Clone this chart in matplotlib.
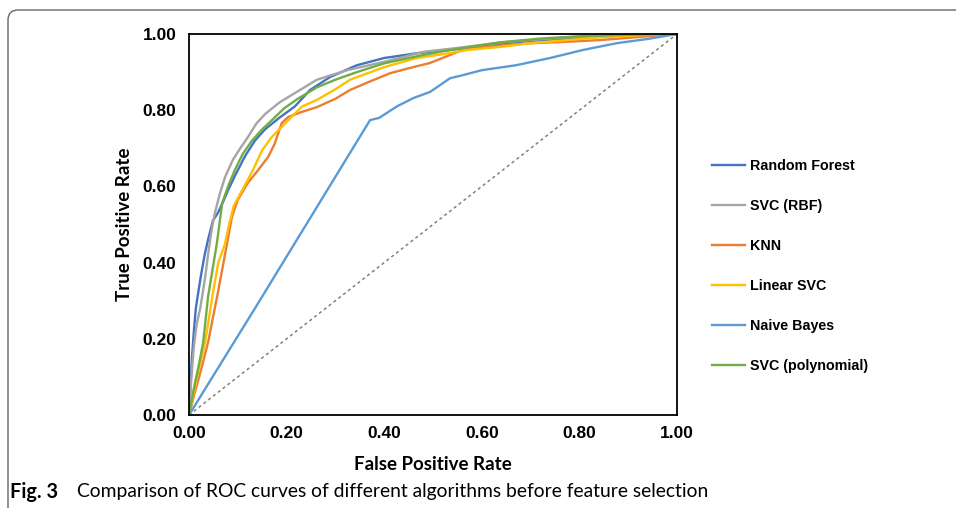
import matplotlib
matplotlib.use("Agg")
import matplotlib.pyplot as plt
from matplotlib.patches import FancyBboxPatch
from matplotlib.transforms import IdentityTransform

# ROC curves
names = ["Random Forest", "SVC (RBF)", "KNN", "Linear SVC", "Naive Bayes", "SVC (polynomial)"]
colors = ["#4472C4", "#A5A5A5", "#ED7D31", "#FFC000", "#5B9BD5", "#70AD47"]

rf_fpr = [0, 0.002, 0.006, 0.010, 0.014, 0.020, 0.025, 0.032, 0.039, 0.049, 0.059, 0.070, 0.080,
          0.095, 0.115, 0.135, 0.156, 0.185, 0.217, 0.248, 0.289, 0.344, 0.40, 0.47, 0.535, 0.62,
          0.70, 0.80, 0.90, 1.0]
rf_tpr = [0, 0.05, 0.15, 0.22, 0.28, 0.33, 0.37, 0.42, 0.46, 0.51, 0.53, 0.56, 0.59,
          0.63, 0.68, 0.72, 0.75, 0.78, 0.81, 0.853, 0.887, 0.918, 0.937, 0.95, 0.958, 0.972,
          0.982, 0.99, 0.997, 1.0]

rbf_fpr = [0, 0.005, 0.010, 0.016, 0.023, 0.033, 0.040, 0.047, 0.053, 0.063, 0.074, 0.090, 0.105,
           0.121, 0.138, 0.156, 0.185, 0.217, 0.262, 0.324, 0.40, 0.48, 0.56, 0.64, 0.72, 0.80,
           0.90, 1.0]
rbf_tpr = [0, 0.10, 0.18, 0.24, 0.28, 0.36, 0.43, 0.49, 0.53, 0.58, 0.625, 0.67, 0.70,
           0.73, 0.765, 0.79, 0.82, 0.845, 0.88, 0.905, 0.927, 0.953, 0.965, 0.978, 0.986, 0.993,
           0.998, 1.0]

knn_fpr = [0, 0.010, 0.025, 0.039, 0.059, 0.078, 0.088, 0.100, 0.121, 0.140, 0.162, 0.175, 0.190,
           0.203, 0.230, 0.262, 0.300, 0.330, 0.370, 0.412, 0.450, 0.494, 0.535, 0.570, 0.640,
           0.705, 0.780, 0.842, 0.920, 1.0]
knn_tpr = [0, 0.05, 0.12, 0.19, 0.32, 0.45, 0.52, 0.565, 0.61, 0.64, 0.677, 0.71, 0.766,
           0.782, 0.795, 0.808, 0.83, 0.853, 0.875, 0.897, 0.91, 0.924, 0.945, 0.963, 0.97,
           0.976, 0.98, 0.984, 0.992, 1.0]

lsvc_fpr = [0, 0.010, 0.020, 0.033, 0.049, 0.060, 0.074, 0.082, 0.092, 0.109, 0.130, 0.150, 0.170,
            0.190, 0.212, 0.232, 0.262, 0.300, 0.330, 0.400, 0.467, 0.535, 0.570, 0.637, 0.700,
            0.775, 0.850, 0.930, 1.0]
lsvc_tpr = [0, 0.06, 0.12, 0.19, 0.32, 0.40, 0.45, 0.50, 0.55, 0.59, 0.64, 0.695, 0.73,
            0.756, 0.785, 0.81, 0.827, 0.855, 0.88, 0.913, 0.937, 0.95, 0.958, 0.966, 0.976,
            0.984, 0.992, 0.997, 1.0]

nb_fpr = [0, 0.14, 0.371, 0.39, 0.426, 0.46, 0.494, 0.535, 0.555, 0.60, 0.67, 0.74, 0.807, 0.877,
          0.94, 1.0]
nb_tpr = [0, 0.29, 0.774, 0.78, 0.81, 0.832, 0.848, 0.884, 0.89, 0.905, 0.918, 0.937, 0.958, 0.976,
          0.987, 1.0]

poly_fpr = [0, 0.010, 0.020, 0.029, 0.039, 0.048, 0.057, 0.068, 0.080, 0.094, 0.110, 0.129, 0.150,
            0.170, 0.195, 0.223, 0.262, 0.300, 0.344, 0.400, 0.480, 0.535, 0.637, 0.720, 0.800,
            0.900, 1.0]
poly_tpr = [0, 0.07, 0.13, 0.19, 0.31, 0.38, 0.45, 0.556, 0.60, 0.643, 0.685, 0.72, 0.75,
            0.774, 0.805, 0.83, 0.86, 0.88, 0.90, 0.923, 0.945, 0.958, 0.978, 0.988, 0.994,
            0.998, 1.0]

curves = [(rf_fpr, rf_tpr), (rbf_fpr, rbf_tpr), (knn_fpr, knn_tpr),
          (lsvc_fpr, lsvc_tpr), (nb_fpr, nb_tpr), (poly_fpr, poly_tpr)]
ticks = [0.0, 0.2, 0.4, 0.6, 0.8, 1.0]

fig = plt.figure(figsize=(9.56, 5.08), dpi=100)
ax = fig.add_axes([189 / 956, 1 - 415 / 508, 488 / 956, 381 / 508])

ax.plot([0, 1], [0, 1], color="#808080", lw=1.1, ls=(0, (2, 2)))
for (x, y), name, c in zip(curves, names, colors):
    ax.plot(x, y, color=c, lw=1.7, label=name)

ax.set_xlim(0, 1)
ax.set_ylim(0, 1)
ax.set_xticks(ticks)
ax.set_yticks(ticks)
tick_font = {"fontsize": 12.5, "fontweight": "bold", "family": "Liberation Sans"}
ax.set_xticklabels(["%.2f" % t for t in ticks], **tick_font)
ax.set_yticklabels(["%.2f" % t for t in ticks], **tick_font)
ax.tick_params(axis="y", length=0, pad=9)
ax.tick_params(axis="x", length=0, pad=8)
for s in ax.spines.values():
    s.set_linewidth(1.3)
    s.set_color("black")

ax.set_xlabel("False Positive Rate", fontsize=13.5, fontweight="bold", family="Lato", labelpad=11)
ax.set_ylabel("True Positive Rate", fontsize=13.5, fontweight="bold", family="Lato", labelpad=7)

leg = ax.legend(loc="center left", bbox_to_anchor=(1.045, (415 - 266) / 381), frameon=False,
                prop={"family": "Liberation Sans", "weight": "bold", "size": 10.3},
                handlelength=2.3, handletextpad=0.4, labelspacing=1.82)

# caption and rounded frame of the figure panel
fig.text(10 / 956, 1 - 492 / 508, "Fig. 3", fontsize=14.3, fontweight="bold", family="Lato",
         va="center")
fig.text(77 / 956, 1 - 492 / 508, "Comparison of ROC curves of different algorithms before feature selection",
         fontsize=13.9, family="Lato", va="center")
frame = FancyBboxPatch((8, -40), 1000, 538, boxstyle="round,pad=0,rounding_size=10",
                       transform=IdentityTransform(), fill=False, ec="#666666", lw=1.0)
fig.patches.append(frame)

fig.savefig("out.png", dpi=100)
